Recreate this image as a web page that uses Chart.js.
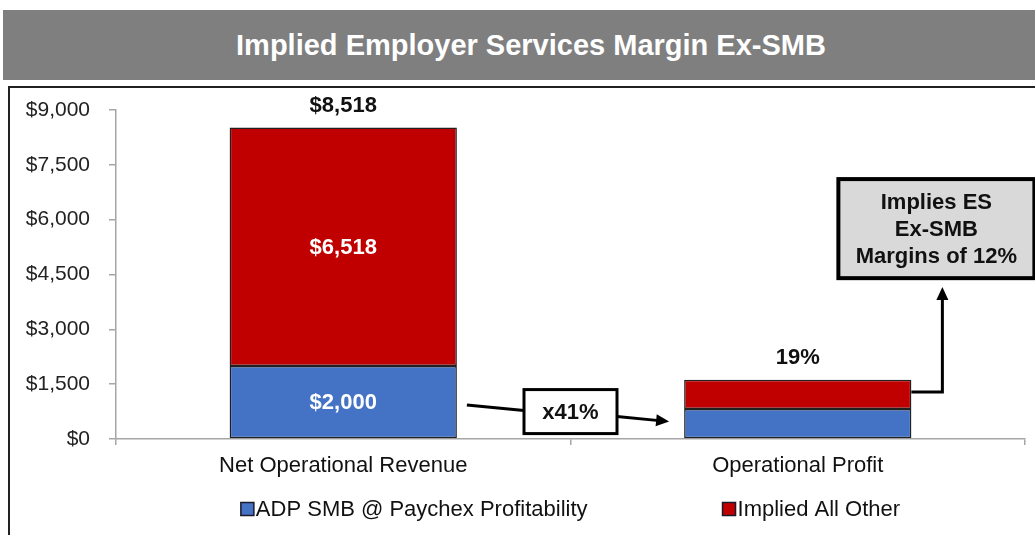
<!DOCTYPE html>
<html>
<head>
<meta charset="utf-8">
<script src="https://cdn.jsdelivr.net/npm/chart.js@4.4.1/dist/chart.umd.min.js"></script>
<style>
  html, body { margin: 0; padding: 0; background: #fff; }
  body { width: 1035px; height: 535px; overflow: hidden; position: relative; font-family: "Liberation Sans", Arial, sans-serif; }
  #title {
    position: absolute; left: 3px; top: 10px; width: 1032px; height: 70px;
    background: #7f7f7f; color: #fff; font-weight: bold; font-size: 29px;
    display: flex; align-items: center; justify-content: center; padding-left: 24px; box-sizing: border-box;
  }
  #frame { position: absolute; left: 8px; top: 86px; width: 1100px; height: 600px; border: 2px solid #222; }
  #wrap { position: absolute; left: 0; top: 0; width: 1035px; height: 535px; }
</style>
</head>
<body>
<div id="title">Implied Employer Services Margin Ex-SMB</div>
<div id="frame"></div>
<div id="wrap"><canvas id="chart"></canvas></div>
<script>
// values
const categories = ['Net Operational Revenue', 'Operational Profit'];
const seriesNames = ['ADP SMB @ Paychex Profitability', 'Implied All Other'];
const smbValues = [2000, 820];
const otherValues = [6518, 798];
const totalLabels = ['$8,518', '19%'];
const showSegmentLabels = [true, false];
const yTickValues = [0, 1500, 3000, 4500, 6000, 7500, 9000];
const multiplierLabel = 'x41%';
const calloutLines = ['Implies ES', 'Ex-SMB', 'Margins of 12%'];

const FONT = '"Liberation Sans", Arial, sans-serif';
const BLUE = '#4472c4';
const RED = '#c00000';

function money(v) { return '$' + v.toLocaleString('en-US'); }

function arrowHead(ctx, x1, y1, x2, y2, len, half) {
  const a = Math.atan2(y2 - y1, x2 - x1);
  ctx.beginPath();
  ctx.moveTo(x2, y2);
  ctx.lineTo(x2 - len * Math.cos(a) + half * Math.sin(a), y2 - len * Math.sin(a) - half * Math.cos(a));
  ctx.lineTo(x2 - len * Math.cos(a) - half * Math.sin(a), y2 - len * Math.sin(a) + half * Math.cos(a));
  ctx.closePath();
  ctx.fill();
}

function arrow(ctx, x1, y1, x2, y2) {
  const a = Math.atan2(y2 - y1, x2 - x1);
  ctx.beginPath();
  ctx.moveTo(x1, y1);
  ctx.lineTo(x2 - 10 * Math.cos(a), y2 - 10 * Math.sin(a));
  ctx.stroke();
  arrowHead(ctx, x1, y1, x2, y2, 13, 6);
}

// labels, arrows, boxes and the legend, all placed from the bar elements / y scale
const annotate = {
  id: 'annotate',
  afterDatasetsDraw(chart) {
    const ctx = chart.ctx, y = chart.scales.y, area = chart.chartArea;
    const m0 = chart.getDatasetMeta(0), m1 = chart.getDatasetMeta(1);
    ctx.save();
    ctx.font = 'bold 22px ' + FONT;
    ctx.textAlign = 'center';
    ctx.textBaseline = 'middle';

    categories.forEach((c, i) => {
      if (showSegmentLabels[i]) {
        [m0, m1].forEach((m, k) => {
          const b = m.data[i];
          ctx.fillStyle = '#fff';
          ctx.fillText(money(chart.data.datasets[k].data[i]), b.x, (b.y + b.base) / 2 + 1);
        });
      }
      const top = m1.data[i];
      ctx.fillStyle = '#111';
      ctx.fillText(totalLabels[i], top.x, top.y - 22);
    });

    const b1 = m0.data[0], b2 = m0.data[1];
    const r1 = b1.x + b1.width / 2, l2 = b2.x - b2.width / 2, r2 = b2.x + b2.width / 2;

    // x41% box between the bars
    const bx = (r1 + l2) / 2, by = y.getPixelForValue(750);
    const bw = 93, bh = 44;
    ctx.strokeStyle = '#000';
    ctx.fillStyle = '#000';
    ctx.lineWidth = 3;
    ctx.beginPath();
    ctx.moveTo(r1 + 10, y.getPixelForValue(930));
    ctx.lineTo(bx - bw / 2, by - 1);
    ctx.stroke();
    arrow(ctx, bx + bw / 2, by + 5, l2 - 15, by + 10);
    ctx.fillStyle = '#fff';
    ctx.fillRect(bx - bw / 2, by - bh / 2, bw, bh);
    ctx.strokeRect(bx - bw / 2, by - bh / 2, bw, bh);
    ctx.fillStyle = '#111';
    ctx.fillText(multiplierLabel, bx, by + 1);

    // elbow arrow from profit bar to the callout
    const ey = y.getPixelForValue(1286);
    const ex = r2 + 31;
    const tip = y.getPixelForValue(4160);
    ctx.fillStyle = '#000';
    ctx.beginPath();
    ctx.moveTo(r2, ey);
    ctx.lineTo(ex, ey);
    ctx.lineTo(ex, tip + 10);
    ctx.stroke();
    arrowHead(ctx, ex, ey, ex, tip, 13, 6);

    // callout box
    const cl = ex - 104, cr = ex + 92;
    const ct = y.getPixelForValue(7110), cb = y.getPixelForValue(4400);
    ctx.fillStyle = '#d9d9d9';
    ctx.fillRect(cl, ct, cr - cl, cb - ct);
    ctx.lineWidth = 4;
    ctx.strokeRect(cl, ct, cr - cl, cb - ct);
    ctx.fillStyle = '#111';
    const cx = (cl + cr) / 2, cm = (ct + cb) / 2;
    calloutLines.forEach((t, k) => ctx.fillText(t, cx, cm + (k - 1) * 27 + 1));

    // legend
    ctx.font = '22px ' + FONT;
    ctx.textAlign = 'left';
    const gap = 135, box = 13;
    const widths = seriesNames.map(s => box + 2 + ctx.measureText(s).width);
    let x = (area.left + area.right) / 2 - (widths[0] + gap + widths[1]) / 2;
    const ly = 509;
    chart.data.datasets.forEach((ds, k) => {
      ctx.fillStyle = ds.backgroundColor;
      ctx.fillRect(x, ly - box / 2, box, box);
      ctx.lineWidth = 1.5;
      ctx.strokeStyle = '#1a1a2a';
      ctx.strokeRect(x, ly - box / 2, box, box);
      ctx.fillStyle = '#111';
      ctx.fillText(ds.label, x + box + 2, ly + 1);
      x += widths[k] + gap;
    });
    ctx.restore();
  }
};

new Chart(document.getElementById('chart'), {
  type: 'bar',
  data: {
    labels: categories,
    datasets: [
      { label: seriesNames[0], data: smbValues, backgroundColor: BLUE },
      { label: seriesNames[1], data: otherValues, backgroundColor: RED },
    ],
  },
  options: {
    responsive: true,
    maintainAspectRatio: false,
    devicePixelRatio: 1,
    animation: false,
    layout: { padding: { top: 110, right: 10, bottom: 56, left: 0 } },
    datasets: {
      bar: {
        barPercentage: 0.5, categoryPercentage: 1,
        borderColor: '#202020', borderWidth: 1.5, borderSkipped: false,
      },
    },
    plugins: { legend: { display: false }, tooltip: { enabled: false }, title: { display: false } },
    scales: {
      x: {
        stacked: true,
        afterFit: (s) => { s.height = 40; },
        grid: { offset: true, drawOnChartArea: false, drawTicks: true, tickLength: 6, color: '#a6a6a6', lineWidth: 1.5 },
        border: { color: '#a6a6a6', width: 1.5 },
        ticks: { color: '#111', padding: 8, maxRotation: 0, font: { family: FONT, size: 22 } },
      },
      y: {
        stacked: true,
        min: 0, max: 9000,
        afterFit: (s) => { s.width = 116; },
        afterBuildTicks: (s) => { s.ticks = yTickValues.map(v => ({ value: v })); },
        grid: { drawOnChartArea: false, drawTicks: true, tickLength: 7, color: '#a6a6a6', lineWidth: 1.5 },
        border: { color: '#a6a6a6', width: 1.5 },
        ticks: { color: '#222', padding: 19, font: { family: FONT, size: 21 }, callback: (v) => money(v) },
      },
    },
  },
  plugins: [annotate],
});
</script>
</body>
</html>
